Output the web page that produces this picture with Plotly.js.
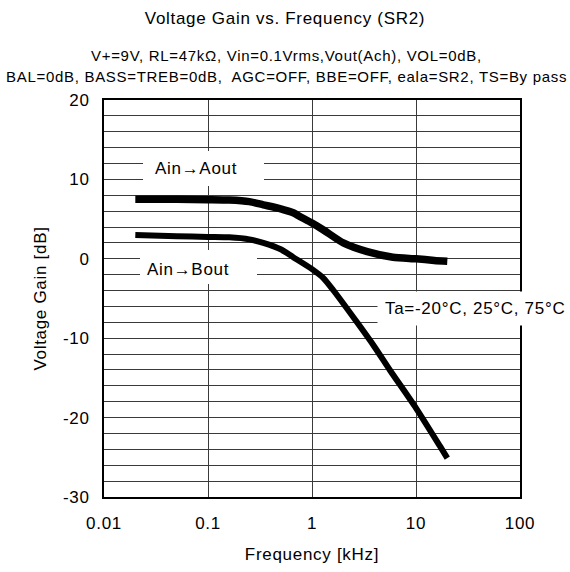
<!DOCTYPE html>
<html>
<head>
<meta charset="utf-8">
<script src="https://cdn.plot.ly/plotly-3.0.1.min.js"></script>
<style>
html,body{margin:0;padding:0;background:#fff;}
#chart{width:570px;height:572px;}
svg text{letter-spacing:0.7px;}
</style>
</head>
<body>
<div id="chart"></div>
<script>
// Frequency in kHz, gain in dB
const freqAout = [0.02, 0.05, 0.1, 0.16, 0.25, 0.34, 0.5, 0.66, 0.77, 1.0, 1.3, 2.0, 3.4, 6.0, 10, 15, 20];
const gainAout = [7.5, 7.5, 7.45, 7.4, 7.2, 6.8, 6.3, 5.8, 5.3, 4.5, 3.6, 2.0, 0.9, 0.2, 0.0, -0.2, -0.3];
const freqBout = [0.02, 0.05, 0.1, 0.16, 0.25, 0.34, 0.5, 0.66, 1.0, 1.28, 1.59, 2.71, 4.0, 5.6, 10, 17, 20];
const gainBout = [3.0, 2.85, 2.75, 2.7, 2.45, 2.0, 1.2, 0.2, -1.3, -2.4, -3.9, -8.0, -11.1, -14.0, -18.8, -23.6, -25.1];
const xTickVals = [0.01, 0.1, 1, 10, 100];
const xTickText = ["0.01", "0.1", "1", "10", "100"];
const yTickVals = [20, 10, 0, -10, -20, -30];
const yTickText = ["20", "10", "0", "-10", "-20", "-30"];

const FONT = "Arial, 'Liberation Sans', sans-serif";
const GRID = "#3a3a3a";
// pixel helpers for the fixed plot frame (l=104, r=520, t=100, b=497)
const px = v => (v - 104) / 416;
const py = v => (497 - v) / 397;

const traces = [
  {x: freqAout, y: gainAout, mode: "lines", line: {color: "#000", width: 7.5, shape: "spline", smoothing: 0.6}, name: "Ain→Aout", hoverinfo: "skip"},
  {x: freqBout, y: gainBout, mode: "lines", line: {color: "#000", width: 6, shape: "spline", smoothing: 0.6}, name: "Ain→Bout", hoverinfo: "skip"}
];

const layout = {
  width: 570, height: 572,
  margin: {l: 104, r: 50, t: 100, b: 75},
  paper_bgcolor: "#fff", plot_bgcolor: "#fff",
  showlegend: false,
  font: {family: FONT, color: "#000", size: 17},
  title: {text: "Voltage Gain vs. Frequency (SR2)", x: 0.5, xref: "container", y: 1 - 18/572, yref: "container", yanchor: "middle", xanchor: "center", font: {size: 17, family: FONT, color: "#000"}},
  xaxis: {
    type: "log", range: [-2, 2],
    tickvals: xTickVals, ticktext: xTickText,
    showgrid: true, gridcolor: GRID, gridwidth: 1,
    showline: true, linecolor: "#000", linewidth: 2, mirror: true,
    ticks: "", ticklabelstandoff: 10,
    zeroline: false,
    tickfont: {size: 17},
    title: {text: "Frequency [kHz]", font: {size: 17}, standoff: 16}
  },
  yaxis: {
    range: [-30, 20],
    tickvals: yTickVals, ticktext: yTickText,
    showgrid: true, gridcolor: GRID, gridwidth: 1,
    minor: {dtick: 2, tick0: 0, showgrid: true, gridcolor: GRID, gridwidth: 1, ticks: ""},
    showline: true, linecolor: "#000", linewidth: 2, mirror: true,
    ticks: "", ticklabelstandoff: 9,
    zeroline: false,
    tickfont: {size: 17},
    title: {text: "Voltage Gain [dB]", font: {size: 17}, standoff: 12}
  },
  shapes: [
    {type: "rect", xref: "paper", yref: "paper", x0: px(143), x1: px(264), y0: py(186), y1: py(151), fillcolor: "#fff", line: {width: 0}, layer: "above"},
    {type: "rect", xref: "paper", yref: "paper", x0: px(140), x1: px(257), y0: py(284), y1: py(250), fillcolor: "#fff", line: {width: 0}, layer: "above"}
  ],
  annotations: [
    {text: "V+=9V, RL=47kΩ, Vin=0.1Vrms,Vout(Ach), VOL=0dB,", xref: "paper", yref: "paper", x: px(286), y: py(55), xanchor: "center", yanchor: "middle", showarrow: false, font: {size: 15}},
    {text: "BAL=0dB, BASS=TREB=0dB,  AGC=OFF, BBE=OFF, eala=SR2, TS=By pass", xref: "paper", yref: "paper", x: px(286), y: py(77), xanchor: "center", yanchor: "middle", showarrow: false, font: {size: 15}},
    {text: "Ain→Aout", xref: "paper", yref: "paper", x: px(196), y: py(168), xanchor: "center", yanchor: "middle", showarrow: false, font: {size: 17}},
    {text: "Ain→Bout", xref: "paper", yref: "paper", x: px(188), y: py(269), xanchor: "center", yanchor: "middle", showarrow: false, font: {size: 17}},
    {text: "Ta=-20°C, 25°C, 75°C", xref: "paper", yref: "paper", x: px(377), y: py(308), xanchor: "left", yanchor: "middle", showarrow: false, bgcolor: "#fff", borderpad: 7, font: {size: 17}}
  ]
};

Plotly.newPlot("chart", traces, layout, {staticPlot: true, displayModeBar: false});
</script>
</body>
</html>
